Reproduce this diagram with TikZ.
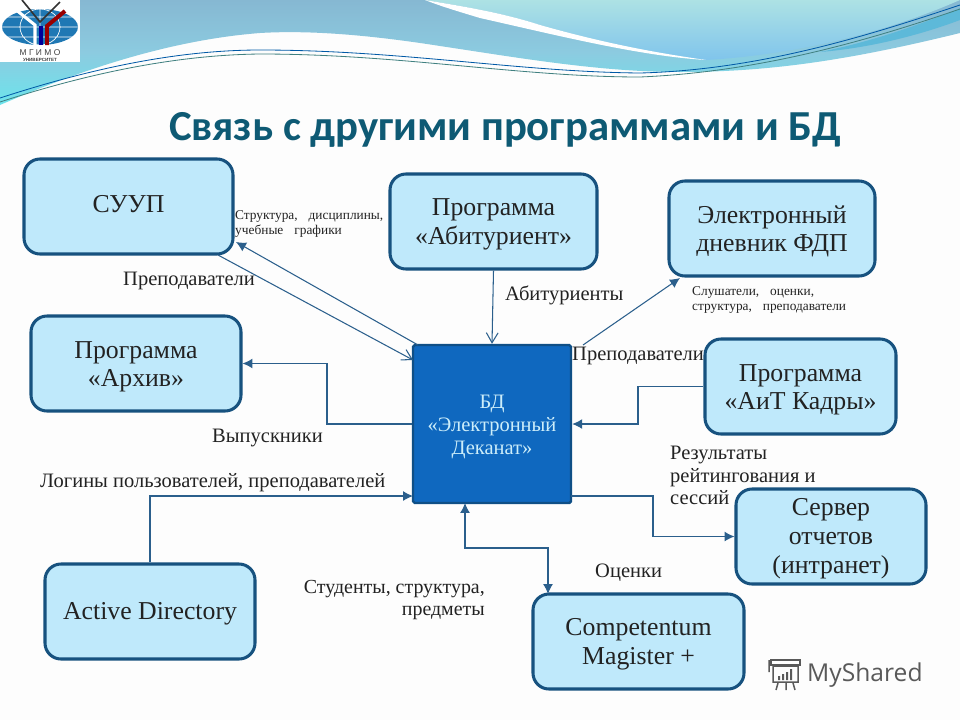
\documentclass[tikz,border=0pt]{standalone}
\usepackage{fontspec}
\setmainfont{Liberation Serif}
\newfontfamily\titlefont{Carlito}
\newfontfamily\logofont{Liberation Sans}
\newfontfamily\brandfont{Open Sans}
\usepackage{tikz}
\usetikzlibrary{arrows.meta}
\usepackage{xcolor}
\definecolor{boxfill}{HTML}{BFE9FB}
\definecolor{boxline}{HTML}{17527F}
\definecolor{dbfill}{HTML}{0F68BF}
\definecolor{dbline}{HTML}{0F4F86}
\definecolor{dbtext}{HTML}{CDEEFA}
\definecolor{wire}{HTML}{2B5F8C}
\definecolor{titleblue}{HTML}{0E5A74}
\definecolor{sketchtext}{HTML}{222222}
\definecolor{bandtop}{HTML}{86B8D2}
\definecolor{bandmid}{HTML}{8CCBE0}
\definecolor{bandlow}{HTML}{6CE4EC}
\definecolor{skytop}{HTML}{ADE2E4}
\definecolor{skylow}{HTML}{80C4EC}
\definecolor{bandright}{HTML}{5DB9D9}
\definecolor{globe}{HTML}{1F78B4}
\definecolor{paper}{HTML}{FDFDFD}
\newcommand{\wordgap}{\ \hspace*{6.5pt}}
\newcommand{\droprow}{\rule{0pt}{20pt}}
\tikzset{
  appbox/.style={draw=boxline, fill=boxfill, line width=2.6pt, rounded corners=0.48cm, align=center,
    minimum height=2.85cm, text=sketchtext, font=\fontsize{22}{24.7}\selectfont},
  dbbox/.style={draw=dbline, fill=dbfill, line width=2.1pt, rounded corners=1.5pt, align=center,
    minimum width=4.74cm, minimum height=4.74cm, text=dbtext, font=\fontsize{17.5}{19.6}\selectfont},
  midlabel/.style={inner sep=0pt, align=left, text=sketchtext, font=\fontsize{17.5}{19.5}\selectfont},
  smalllabel/.style={inner sep=0pt, align=left, text=sketchtext, font=\fontsize{11.4}{13.6}\selectfont},
  wired/.style={draw=wire, line width=0.9pt, -{Latex[length=8.5pt,width=8.5pt]}},
  wiredopen/.style={draw=wire, line width=0.9pt, -{Straight Barb[length=8.5pt,width=10pt]}},
  wiredboth/.style={draw=wire, line width=0.9pt, {Latex[length=8.5pt,width=8.5pt]}-{Latex[length=8.5pt,width=8.5pt]}},
  swooshline/.style={draw=#1, line width=0.7pt},
}
\begin{document}
\begin{tikzpicture}[x=0.03cm,y=-0.03cm]
  \useasboundingbox (0,0) rectangle (960,720);
  \fill[paper] (0,0) rectangle (960,720);

  % banner
  \shade[top color=bandtop, bottom color=bandlow, middle color=bandmid]
    (0,0) -- (960,0) -- (960,33) .. controls (850,60) and (770,72) .. (680,72)
    .. controls (600,72) and (520,58) .. (440,46) .. controls (370,35) and (310,30) .. (260,33)
    .. controls (170,40) and (80,70) .. (0,105) -- cycle;
  \shade[top color=skytop, bottom color=skylow]
    (425,0) .. controls (460,6) and (500,12) .. (540,25) .. controls (600,42) and (650,52) .. (706,60)
    .. controls (790,55) and (880,35) .. (960,0) -- cycle;
  \fill[white] (425,0) .. controls (460,6) and (500,12) .. (540,25) .. controls (600,42) and (650,52) .. (706,60)
    .. controls (640,56) and (560,36) .. (480,18) .. controls (460,12) and (440,6) .. (425,0) -- cycle;
  \fill[bandright] (820,52) .. controls (870,42) and (920,25) .. (960,8) -- (960,20) .. controls (920,35) and (870,48) .. (820,52) -- cycle;
  \draw[swooshline=teal!70!blue] (0,98) .. controls (80,72) and (170,50) .. (260,50) .. controls (400,50) and (520,72) .. (640,73)
    .. controls (760,70) and (870,35) .. (960,5);
  \draw[swooshline=teal!50!gray] (0,102) .. controls (80,76) and (170,55) .. (260,54) .. controls (400,54) and (520,77) .. (640,77)
    .. controls (760,72) and (870,40) .. (960,9);

  % logo
  \fill[white] (0,0) rectangle (80,62);
  \fill[globe] (40,27) ellipse [x radius=38, y radius=18];
  \draw[white, line width=0.6pt] (40,9) -- (40,45) (2,27) -- (78,27) (8,17) -- (72,17) (8,37) -- (72,37)
    (40,27) ellipse [x radius=20, y radius=18];
  \draw[black!80, line width=1.4pt] (22,0) -- (40,22) -- (60,2);
  \draw[white, line width=2.6pt] (15,9) -- (35,25) -- (35,46);
  \draw[red!60!black, line width=3.4pt] (65,11) -- (47,26) -- (47,45);
  \draw[blue!60!black, line width=3.4pt] (41,26) -- (41,45);
  \node[inner sep=0pt, text=black!75] (logoname) at (40,53) {\logofont\fontsize{7.2}{8}\selectfont М\ Г\ И\ М\ О};
  \node[inner sep=0pt, text=black!75] (logosub) at (40,60) {\logofont\bfseries\fontsize{3.9}{4}\selectfont УНИВЕРСИТЕТ};

  % title
  \node[inner sep=0pt, anchor=west, text=titleblue] (heading) at (169,130)
    {\titlefont\bfseries\fontsize{36.5}{40}\selectfont Связь с другими программами и БД};

  % boxes
  \node[appbox, minimum width=6.27cm] (suup) at (128.5,206.5) {\rule[-4pt]{0pt}{4pt}СУУП};
  \node[appbox, minimum width=6.21cm] (abitur) at (493.5,221.5) {\droprow Программа\\«Абитуриент»};
  \node[appbox, minimum width=6.18cm] (fdp) at (772,228.5) {\droprow Электронный\\дневник ФДП};
  \node[appbox, minimum width=6.3cm] (arhiv) at (136,363.5) {\droprow Программа\\«Архив»};
  \node[appbox, minimum width=5.73cm] (kadry) at (800.5,386.5) {\droprow Программа\\«АиТ Кадры»};
  \node[appbox, minimum width=5.7cm] (report) at (831,536.5) {\rule{0pt}{18pt}Сервер\\отчетов\\(интранет)};
  \node[appbox, minimum width=6.3cm] (adir) at (150,611.5) {\rule{0pt}{19pt}Active Directory};
  \node[appbox, minimum width=6.33cm] (magister) at (638.5,641.5) {\droprow Competentum\\Magister +};
  \node[dbbox] (dekanat) at (492,424) {\rule{0pt}{16.5pt}БД\\«Электронный\\Деканат»};

  % coords
  \coordinate (suupIn) at (236,242);
  \coordinate (suupOut) at (218,255);
  \coordinate (dbTopL) at (418,345);
  \coordinate (dbLeftT) at (413,360);
  \coordinate (dbTopR) at (583,345);
  \coordinate (fdpIn) at (680,278);
  \coordinate (dbLeftB) at (413,496);
  \coordinate (dbRightB) at (571,496);
  \coordinate (dbBot) at (465,503);
  \coordinate (magTop) at (548,594);

  % connectors
  \draw[wired] (dbTopL) -- (suupIn);
  \draw[wiredopen] (suupOut) -- (dbLeftT);
  \draw[wiredopen] (abitur.south) -- (dekanat.north);
  \draw[wired] (dbTopR) -- (fdpIn);
  \draw[wired] (kadry.west) -- (638,386.5) |- (dekanat.east);
  \draw[wired] (dekanat.west) -- (327,424) |- (arhiv.east);
  \draw[wired] (adir.north) |- (dbLeftB);
  \draw[wired] (dbRightB) -- (653,496) |- (report.west);
  \draw[wiredboth] (dbBot) |- (548,548) -- (magTop);

  % labels
  \node[smalllabel, anchor=west] (lblstruct) at (235,224) {Структура,\wordgap дисциплины,\\учебные\wordgap графики};
  \node[smalllabel, anchor=west] (lblfdp) at (692,300) {Слушатели,\wordgap оценки,\\структура,\wordgap преподаватели};
  \node[midlabel, anchor=west] (lblteach) at (123,281) {Преподаватели};
  \node[midlabel, anchor=west] (lblabit) at (505,295) {Абитуриенты};
  \node[midlabel, anchor=west] (lblteachb) at (572,356) {Преподаватели};
  \node[midlabel, anchor=west] (lblgrad) at (212,438) {Выпускники};
  \node[midlabel, anchor=west] (lblrate) at (670,475.5) {Результаты\\рейтингования и\\сессий};
  \node[midlabel, anchor=west] (lbllogin) at (40,483) {Логины пользователей, преподавателей};
  \node[midlabel, anchor=east, align=right, font=\fontsize{17}{19.5}\selectfont] (lblstud) at (485,600) {Студенты, структура,\\предметы};
  \node[midlabel, anchor=west] (lblgrade) at (595,573) {Оценки};

  % watermark
  \draw[black!65, line width=1.3pt, fill=white] (771,660) rectangle (800,665);
  \draw[black!65, line width=1.3pt] (769,660) -- (769,672) (773,666) rectangle (798,682) (778,683) -- (776,690) (786,683) -- (786,690) (793,683) -- (795,690);
  \fill[black!65] (778,676) rectangle (780,680) (782,674) rectangle (784,680) (786,672) rectangle (788,680) (790,669) rectangle (792,680);
  \node[inner sep=0pt, anchor=west, text=black!65] (brand) at (807,675)
    {\brandfont\fontsize{21}{24}\selectfont MyShared};
\end{tikzpicture}
\end{document}
